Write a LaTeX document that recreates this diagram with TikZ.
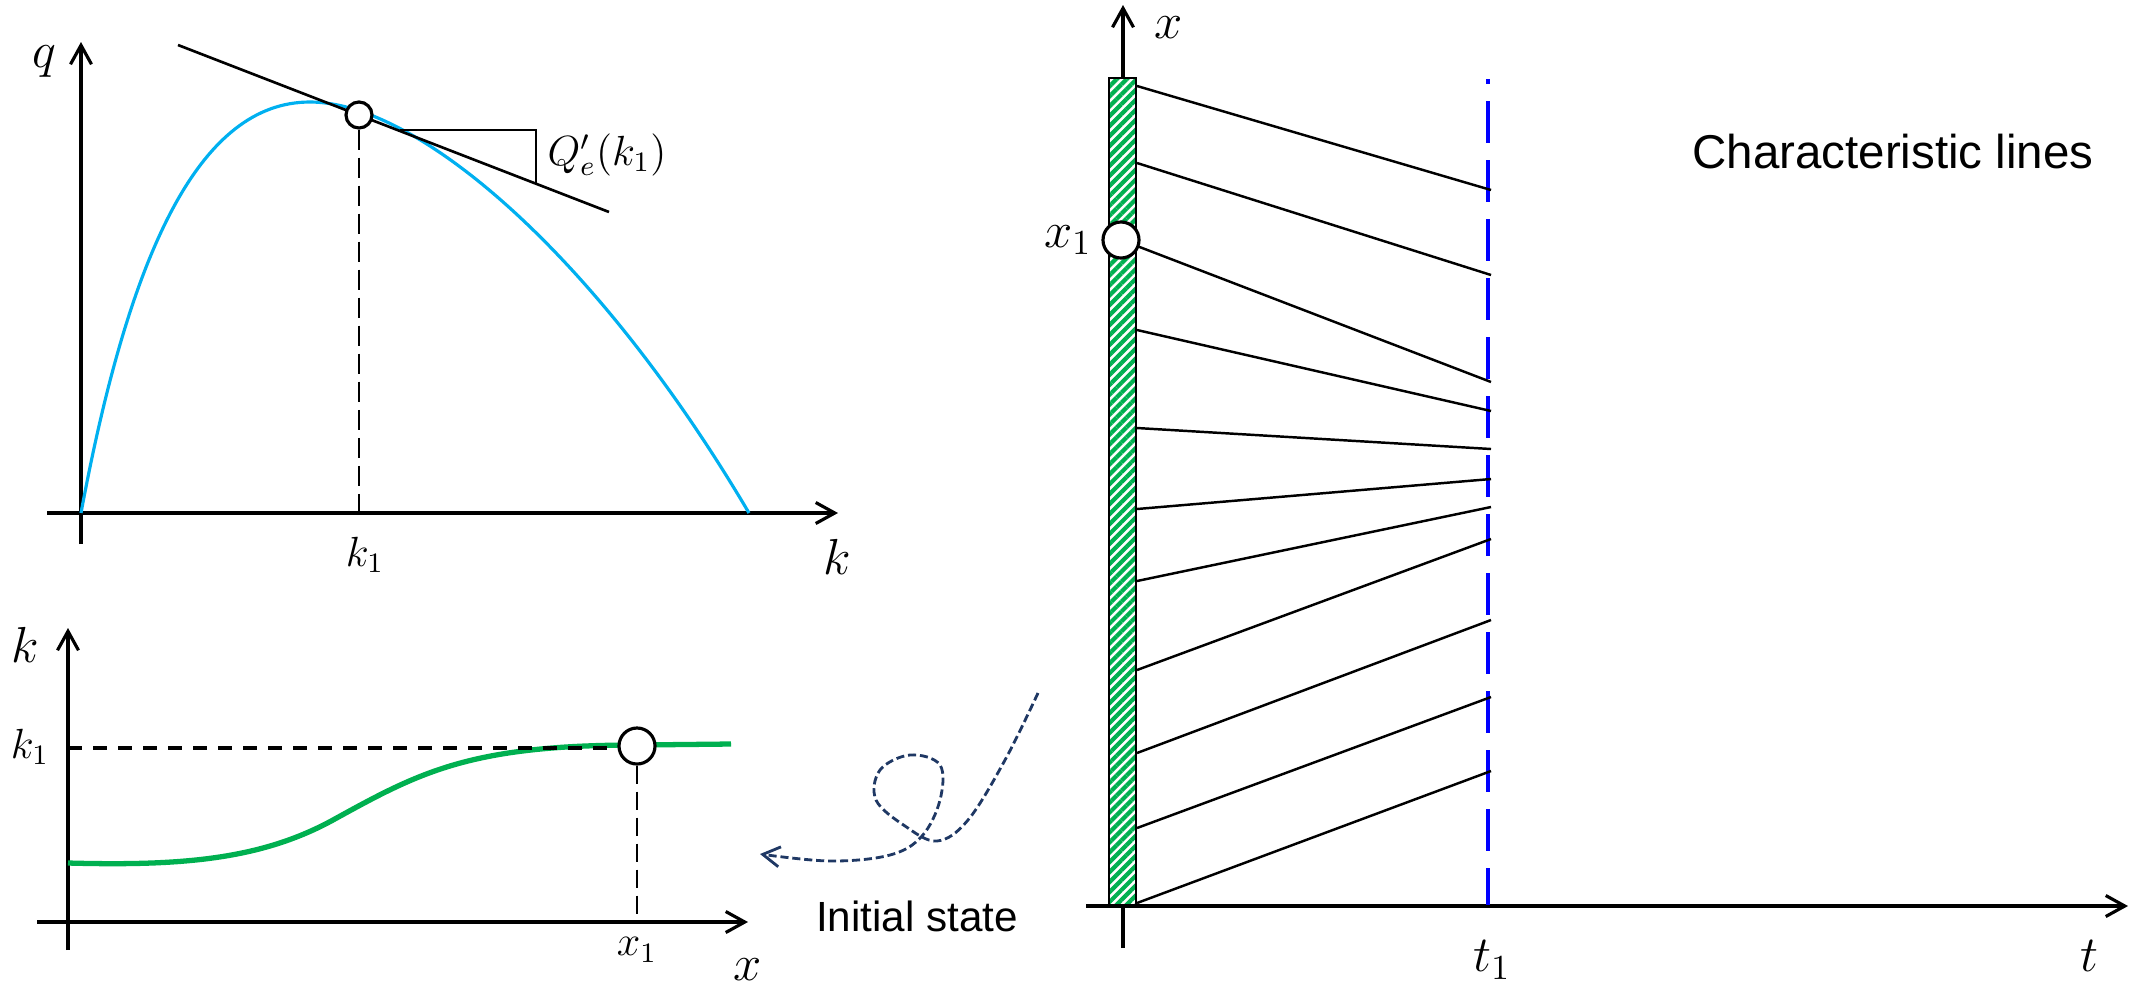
\documentclass[tikz,border=0pt]{standalone}
\usepackage{amsmath}
\usepackage{fontspec}
\usepackage{xcolor}
\usepackage{tikz}
\usetikzlibrary{arrows.meta,patterns.meta,calc}
\newfontfamily\labelfont{Liberation Sans}
\definecolor{flowblue}{HTML}{00B0F0}
\definecolor{densgreen}{HTML}{00B050}
\definecolor{tlineblue}{HTML}{0000FF}
\definecolor{curlnavy}{HTML}{1F3864}

\begin{document}
\begin{tikzpicture}[x=0.01cm,y=-0.01cm,
  axis/.style={line width=0.9pt,-{Straight Barb[length=1.9mm,width=2.1mm]}},
  dot/.style={circle,draw,fill=white,line width=0.9pt,inner sep=0pt},
  biglbl/.style={font=\fontsize{14.4}{17}\selectfont,inner sep=0pt},
  smalllbl/.style={font=\fontsize{12}{14}\selectfont,inner sep=0pt},
  guide/.style={line width=0.6pt,dash pattern=on 0.2cm off 0.08cm},
  charline/.style={line width=0.7pt}
]
\useasboundingbox (0,0) rectangle (2134,987);

% fundamental diagram q(k)
\draw[axis] (81,544) -- (81,42);
\draw[axis] (47,513) -- (838,513);
\node[biglbl] (qlbl) at (44,62) {$q$};
\node[biglbl] (klbl) at (837,557) {$k$};
\draw[flowblue,line width=0.9pt] (81,513) .. controls (130,250) and (200,102) .. (310,102)
  .. controls (420,102) and (600,260) .. (749,513);
\draw[line width=0.75pt] (178,45) -- (609,212);
\draw[line width=0.5pt] (400,130) -- (536,130) -- (536,183);
\node[smalllbl] (slope) at (607,155) {$Q'_e(k_1)$};
\node[dot,minimum size=0.26cm] (tdot) at (359,115) {};
\coordinate (kfoot) at (359,513);
\draw[guide] (tdot) -- (kfoot);
\node[smalllbl] (k1lbl) at (365,555) {$k_1$};

% initial density k(x)
\draw[axis] (68,950) -- (68,628);
\draw[axis] (37,922) -- (748,922);
\node[biglbl] (kylbl) at (25,645) {$k$};
\node[biglbl] (xlbl) at (748,970) {$x$};
\node[smalllbl] (k1ylbl) at (30,747) {$k_1$};
\node[smalllbl] (x1lbl) at (637,950) {$x_1$};
\draw[densgreen,line width=1.5pt] (68,863) .. controls (180,866) and (260,860) .. (333,820)
  .. controls (420,772) and (470,745) .. (637,745) -- (731,744);
\node[dot,minimum size=0.36cm] (bdot) at (637,746) {};
\coordinate (kleft) at (68,748);
\coordinate (xfoot) at (637,922);
\draw[line width=0.9pt,dash pattern=on 0.14cm off 0.11cm] (kleft) -- (kleft -| bdot.west);
\draw[line width=0.6pt,dash pattern=on 0.18cm off 0.08cm] (bdot) -- (xfoot);

\node[font=\labelfont\fontsize{12}{14}\selectfont,inner sep=0pt] (init) at (917,916) {Initial state};
\draw[curlnavy,line width=0.8pt,dash pattern=on 2.3pt off 1.1pt,
  -{Straight Barb[length=1.7mm,width=2mm]}] plot[smooth,tension=0.6] coordinates {
  (1038,693) (1005,760) (968,820) (937,841) (905,826) (876,800) (880,770)
  (910,755) (940,765) (940,800) (922,836) (890,855) (830,861) (760,854)};

% characteristics in the t-x plane
\draw[axis] (1123,948) -- (1123,5);
\draw[axis] (1086,906) -- (2128,906);
\fill[white] (1109,78) rectangle (1136,905);
\fill[pattern={Lines[angle=45,distance=2pt,line width=1.2pt]},pattern color=densgreen]
  (1109,78) rectangle (1136,905);
\draw[line width=0.6pt] (1109,78) rectangle (1136,905);
\draw[tlineblue,line width=1.2pt,dash pattern=on 0.42cm off 0.17cm,dash phase=0.37cm]
  (1488,79) -- (1488,905);
\foreach \ya/\yb in {86/190,163/275,246/382,330/411,428/449,509/479,
                     581/507,670/539,753/620,828/697,903/771}
  \draw[charline] (1137,\ya) -- (1491,\yb);
\node[dot,minimum size=0.36cm] (rdot) at (1121,240) {};
\node[biglbl] (xrlbl) at (1169,28) {$x$};
\node[biglbl] (x1rlbl) at (1068,240) {$x_1$};
\node[biglbl] (tlbl) at (2089,956) {$t$};
\node[biglbl] (t1lbl) at (1492,960) {$t_1$};
\node[font=\labelfont\fontsize{13.5}{16}\selectfont,inner sep=0pt] (charlbl) at (1893,152)
  {Characteristic lines};
\end{tikzpicture}
\end{document}
